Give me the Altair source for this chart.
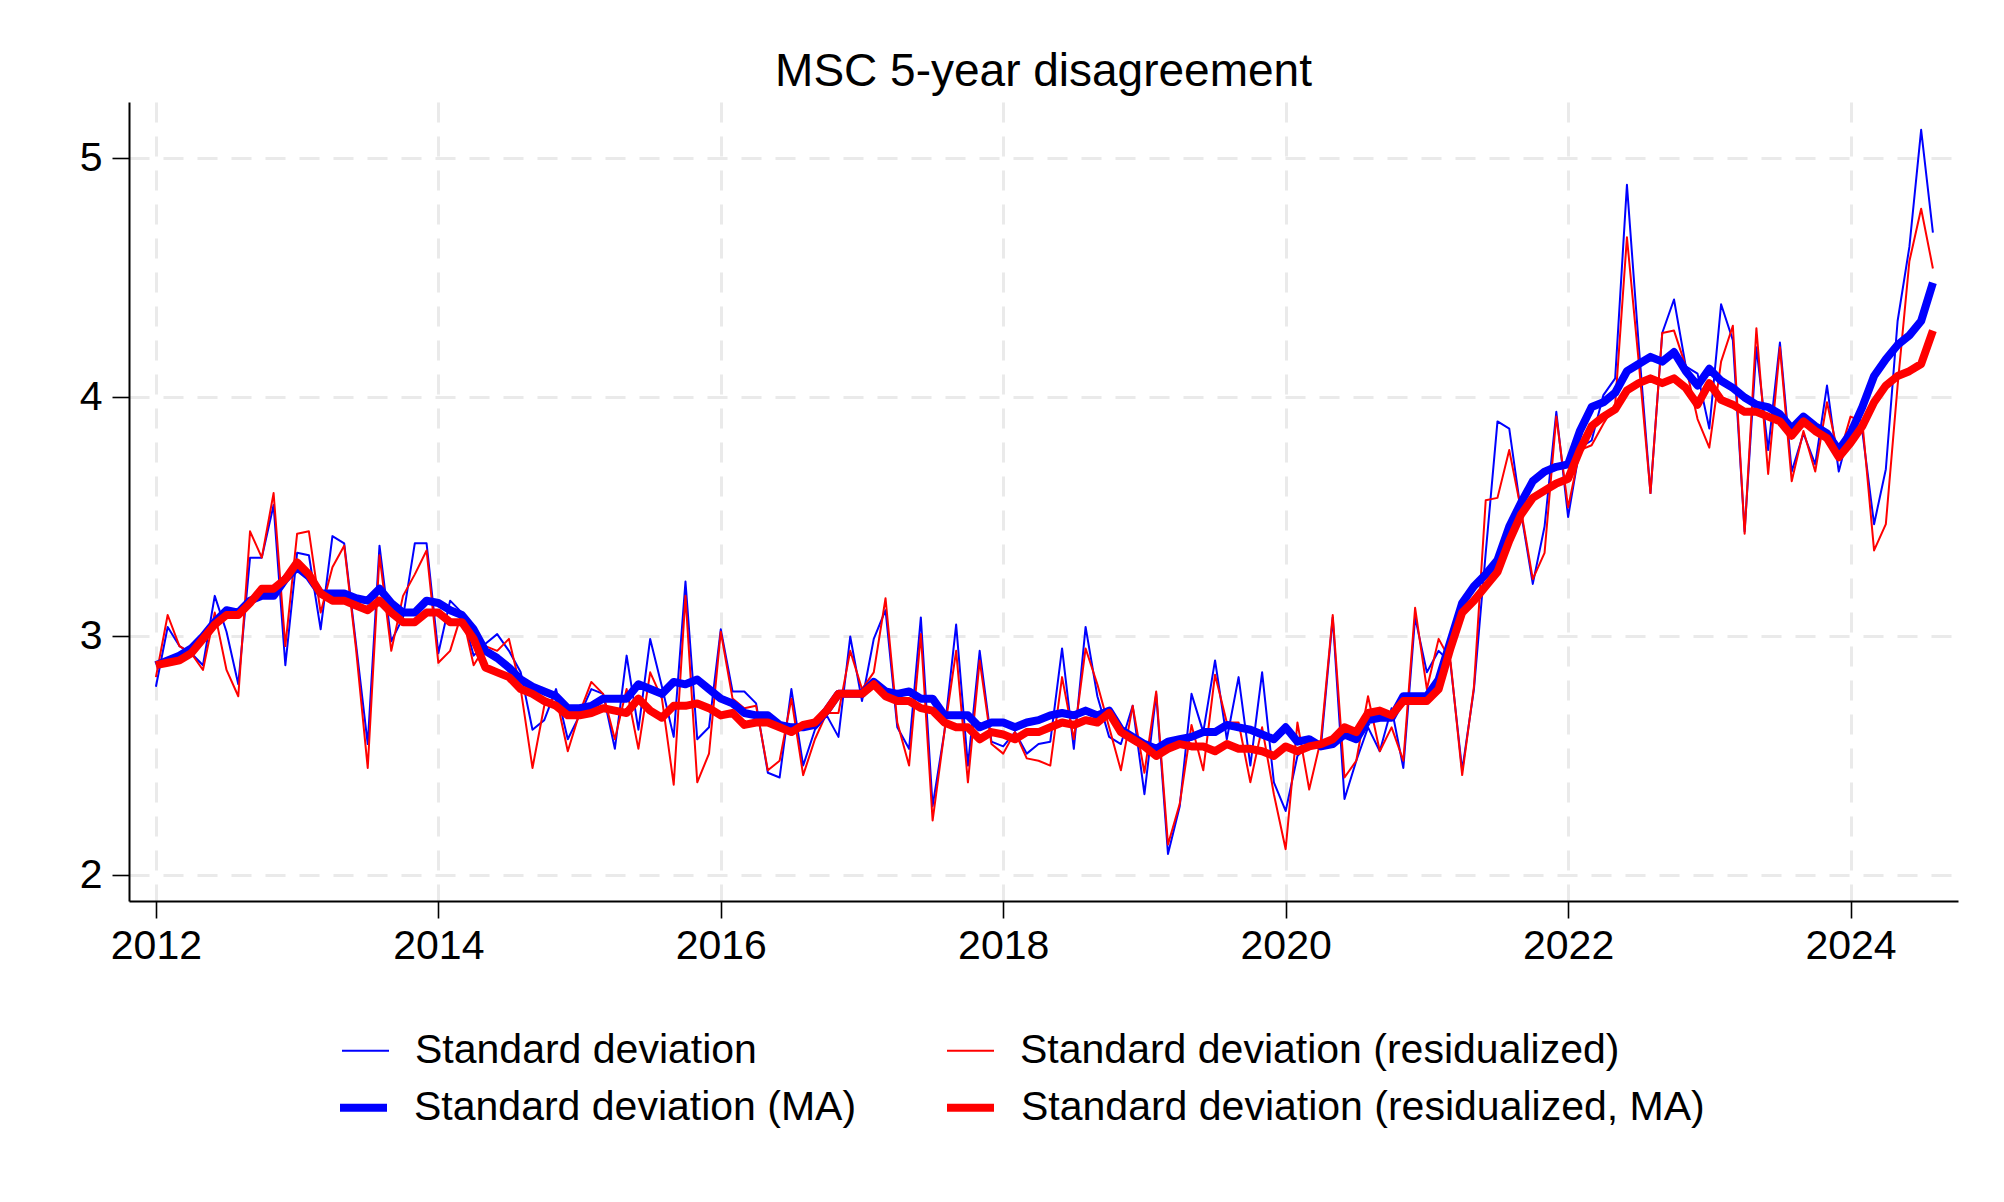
import altair as alt
import pandas as pd

# Monthly observations, Jan 2012 .. Aug 2024 (one row of 12 per year)
sd = [
    2.79, 3.04, 2.96, 2.93, 2.88, 3.17, 3.02, 2.80, 3.33, 3.33, 3.55, 2.88,
    3.35, 3.34, 3.03, 3.42, 3.39, 2.97, 2.55, 3.38, 2.98, 3.08, 3.39, 3.39,
    2.93, 3.15, 3.10, 2.92, 2.97, 3.01, 2.94, 2.85, 2.61, 2.65, 2.78, 2.57,
    2.67, 2.78, 2.76, 2.53, 2.92, 2.61, 2.99, 2.79, 2.58, 3.23, 2.57, 2.62,
    3.03, 2.77, 2.77, 2.72, 2.43, 2.41, 2.78, 2.46, 2.61, 2.67, 2.58, 3.00,
    2.73, 2.99, 3.11, 2.62, 2.53, 3.08, 2.29, 2.60, 3.05, 2.46, 2.94, 2.56,
    2.54, 2.60, 2.51, 2.55, 2.56, 2.95, 2.53, 3.04, 2.75, 2.58, 2.55, 2.71,
    2.34, 2.76, 2.09, 2.29, 2.76, 2.60, 2.90, 2.57, 2.83, 2.46, 2.85, 2.39,
    2.27, 2.50, 2.55, 2.54, 3.08, 2.32, 2.48, 2.62, 2.52, 2.70, 2.45, 3.08,
    2.85, 2.94, 2.89, 2.44, 2.78, 3.35, 3.90, 3.87, 3.52, 3.22, 3.46, 3.94,
    3.50, 3.79, 3.82, 4.01, 4.08, 4.89, 4.22, 3.60, 4.27, 4.41, 4.13, 4.10,
    3.87, 4.39, 4.24, 3.44, 4.21, 3.78, 4.23, 3.69, 3.85, 3.72, 4.05, 3.69,
    3.88, 3.86, 3.47, 3.70, 4.32, 4.63, 5.12, 4.69,
]

sd_resid = [
    2.83, 3.09, 2.96, 2.93, 2.86, 3.10, 2.86, 2.75, 3.44, 3.33, 3.60, 2.96,
    3.43, 3.44, 3.10, 3.29, 3.38, 2.95, 2.45, 3.34, 2.94, 3.17, 3.26, 3.36,
    2.89, 2.94, 3.10, 2.88, 2.96, 2.94, 2.99, 2.78, 2.45, 2.71, 2.75, 2.52,
    2.68, 2.81, 2.76, 2.57, 2.78, 2.53, 2.85, 2.74, 2.38, 3.17, 2.39, 2.51,
    3.02, 2.74, 2.70, 2.71, 2.44, 2.48, 2.74, 2.42, 2.57, 2.68, 2.68, 2.94,
    2.78, 2.85, 3.16, 2.64, 2.46, 3.01, 2.23, 2.60, 2.94, 2.39, 2.90, 2.55,
    2.51, 2.60, 2.49, 2.48, 2.46, 2.83, 2.57, 2.95, 2.80, 2.62, 2.44, 2.71,
    2.43, 2.77, 2.13, 2.30, 2.63, 2.44, 2.84, 2.64, 2.64, 2.39, 2.62, 2.34,
    2.11, 2.64, 2.36, 2.57, 3.09, 2.41, 2.48, 2.75, 2.52, 2.62, 2.48, 3.12,
    2.78, 2.99, 2.90, 2.42, 2.79, 3.57, 3.58, 3.78, 3.53, 3.24, 3.35, 3.92,
    3.54, 3.78, 3.80, 3.89, 3.97, 4.67, 4.15, 3.60, 4.27, 4.28, 4.13, 3.91,
    3.79, 4.15, 4.30, 3.43, 4.29, 3.68, 4.21, 3.65, 3.86, 3.69, 3.98, 3.75,
    3.92, 3.90, 3.36, 3.47, 4.05, 4.57, 4.79, 4.54,
]

sd_ma = [
    2.88, 2.90, 2.92, 2.95, 3.00, 3.06, 3.11, 3.10, 3.15, 3.17, 3.17, 3.24,
    3.29, 3.25, 3.18, 3.18, 3.18, 3.16, 3.15, 3.20, 3.14, 3.10, 3.10, 3.15,
    3.14, 3.11, 3.09, 3.03, 2.94, 2.91, 2.87, 2.82, 2.79, 2.77, 2.75, 2.70,
    2.70, 2.71, 2.74, 2.74, 2.74, 2.80, 2.78, 2.76, 2.81, 2.80, 2.82, 2.78,
    2.74, 2.72, 2.68, 2.67, 2.67, 2.63, 2.62, 2.62, 2.63, 2.69, 2.76, 2.76,
    2.76, 2.81, 2.77, 2.76, 2.77, 2.74, 2.74, 2.67, 2.67, 2.67, 2.62, 2.64,
    2.64, 2.62, 2.64, 2.65, 2.67, 2.68, 2.67, 2.69, 2.67, 2.69, 2.61, 2.58,
    2.55, 2.53, 2.56, 2.57, 2.58, 2.60, 2.60, 2.63, 2.62, 2.61, 2.59, 2.57,
    2.62, 2.56, 2.57, 2.54, 2.55, 2.59, 2.57, 2.65, 2.66, 2.66, 2.75, 2.75,
    2.75, 2.82, 2.98, 3.14, 3.21, 3.26, 3.32, 3.46, 3.56, 3.65, 3.69, 3.71,
    3.72, 3.86, 3.96, 3.98, 4.02, 4.11, 4.14, 4.17, 4.15, 4.19, 4.11, 4.05,
    4.12, 4.07, 4.04, 4.00, 3.97, 3.96, 3.93, 3.87, 3.92, 3.88, 3.85, 3.78,
    3.85, 3.96, 4.09, 4.16, 4.22, 4.26, 4.32, 4.48,
]

sd_resid_ma = [
    2.88, 2.89, 2.90, 2.93, 2.99, 3.05, 3.09, 3.09, 3.14, 3.20, 3.20, 3.24,
    3.31, 3.26, 3.18, 3.15, 3.15, 3.13, 3.11, 3.15, 3.10, 3.06, 3.06, 3.10,
    3.10, 3.06, 3.06, 2.99, 2.87, 2.85, 2.83, 2.78, 2.76, 2.73, 2.71, 2.67,
    2.67, 2.68, 2.70, 2.69, 2.68, 2.74, 2.69, 2.66, 2.71, 2.71, 2.72, 2.70,
    2.67, 2.68, 2.63, 2.64, 2.64, 2.62, 2.60, 2.63, 2.64, 2.69, 2.76, 2.76,
    2.76, 2.80, 2.75, 2.73, 2.73, 2.70, 2.69, 2.64, 2.62, 2.62, 2.57, 2.60,
    2.59, 2.57, 2.60, 2.60, 2.62, 2.64, 2.63, 2.65, 2.64, 2.68, 2.60, 2.57,
    2.54, 2.50, 2.53, 2.55, 2.54, 2.54, 2.52, 2.55, 2.53, 2.53, 2.52, 2.50,
    2.54, 2.52, 2.54, 2.55, 2.57, 2.62, 2.60, 2.68, 2.69, 2.67, 2.73, 2.73,
    2.73, 2.78, 2.95, 3.10, 3.15, 3.21, 3.27, 3.40, 3.51, 3.58, 3.61, 3.64,
    3.66, 3.78, 3.88, 3.92, 3.95, 4.03, 4.06, 4.08, 4.06, 4.08, 4.04, 3.97,
    4.06, 3.99, 3.97, 3.94, 3.94, 3.92, 3.90, 3.84, 3.90, 3.86, 3.83, 3.75,
    3.81, 3.88, 3.98, 4.05, 4.09, 4.11, 4.14, 4.28,
]

thin_names = ["Standard deviation", "Standard deviation (residualized)"]
thick_names = ["Standard deviation (MA)", "Standard deviation (residualized, MA)"]
pair_colors = ["#0000ff", "#ff0000"]
THIN_W = 2
THICK_W = 8

x_ticks = [2012, 2014, 2016, 2018, 2020, 2022, 2024]
y_ticks = [2, 3, 4, 5]
title_text = "MSC 5-year disagreement"

FONT = "Liberation Sans, Arial, Helvetica, sans-serif"
START_YEAR = 2012

legend_common = dict(
    orient="none",
    columns=2,
    direction="horizontal",
    title=None,
    labelFont=FONT,
    labelFontSize=41,
    labelColor="black",
    labelLimit=0,
    symbolType="stroke",
    symbolSize=2209,
)

# column 2 must line up in both rows
legend_thin = alt.Legend(legendX=212, legendY=924, columnPadding=186, labelOffset=25,
                         symbolStrokeWidth=THIN_W, **legend_common)
legend_thick = alt.Legend(legendX=207, legendY=978, columnPadding=74, labelOffset=23,
                          symbolStrokeWidth=THICK_W, **legend_common)

axis_common = dict(
    labelFont=FONT,
    labelFontSize=41,
    labelColor="black",
    domainColor="black",
    domainWidth=2,
    tickColor="black",
    tickWidth=1.6,
    tickSize=17,
    grid=True,
    gridColor="#eaeaea",
    gridWidth=3,
    gridDash=[20, 14],
    title=None,
)

x_enc = alt.X(
    "t:Q",
    scale=alt.Scale(domain=[2011.8095, 2024.761], nice=False, zero=False),
    axis=alt.Axis(values=x_ticks, format="d", labelPadding=8, **axis_common),
)
y_enc = alt.Y(
    "v:Q",
    scale=alt.Scale(domain=[1.8933, 5.2364], nice=False, zero=False),
    axis=alt.Axis(values=y_ticks, format="d", labelPadding=10, **axis_common),
)


def frame(values, name):
    return pd.DataFrame({
        "t": [START_YEAR + i / 12 for i in range(len(values))],
        "v": values,
        "series": name,
    })


def thin_layer(values, name):
    return alt.Chart(frame(values, name)).mark_line(strokeWidth=THIN_W, strokeJoin="round").encode(
        x=x_enc, y=y_enc,
        color=alt.Color("series:N", scale=alt.Scale(domain=thin_names, range=pair_colors), legend=legend_thin),
    )


def thick_layer(values, name):
    return alt.Chart(frame(values, name)).mark_line(strokeWidth=THICK_W, strokeJoin="round").encode(
        x=x_enc, y=y_enc,
        stroke=alt.Stroke("series:N", scale=alt.Scale(domain=thick_names, range=pair_colors), legend=legend_thick),
    )


layers = [
    thin_layer(sd, thin_names[0]),
    thin_layer(sd_resid, thin_names[1]),
    thick_layer(sd_ma, thick_names[0]),
    thick_layer(sd_resid_ma, thick_names[1]),
]

chart = alt.layer(*layers).properties(
    width=1829,
    height=799,
    autosize=alt.AutoSizeParams(type="none"),
    padding={"left": 129, "top": 102, "right": 46, "bottom": 301},
    title=alt.Title(
        text=title_text,
        font=FONT,
        fontSize=46,
        fontWeight="normal",
        color="black",
        anchor="middle",
        offset=6,
    ),
    background="white",
).configure_view(strokeWidth=0)

chart.save("out.html", embed_options={"renderer": "svg", "actions": False})
